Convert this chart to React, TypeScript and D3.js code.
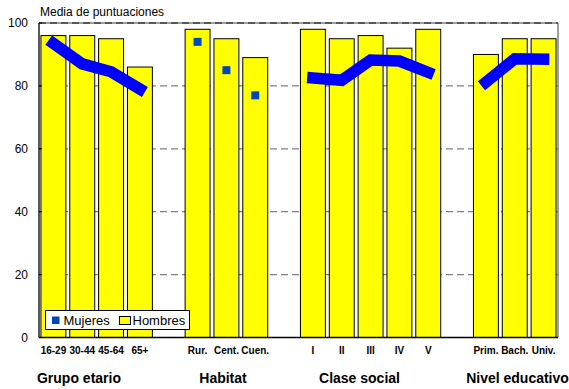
import React from "react";
import * as d3 from "d3";

const groupNames = ["Grupo etario", "Habitat", "Clase social", "Nivel educativo"];
const groupCategories = [
  ["16-29", "30-44", "45-64", "65+"],
  ["Rur.", "Cent.", "Cuen."],
  ["I", "II", "III", "IV", "V"],
  ["Prim.", "Bach.", "Univ."],
];
const hombres = [
  [96, 96, 95, 86],
  [98, 95, 89],
  [98, 95, 96, 92, 98],
  [90, 95, 95],
];
const mujeres = [
  [93.5, 87, 84.5, 79],
  [94, 85, 77],
  [82.5, 81.8, 88.2, 87.9, 84.3],
  [81.2, 88.6, 88.5],
];
const mujeresAsLine = [true, false, true, true];
const yTicks = [0, 20, 40, 60, 80, 100];
const yTitle = "Media de puntuaciones";
const legendLabels = ["Mujeres", "Hombres"];

// layout
const W = 569;
const H = 389;
const left = 39;
const right = 558;
const top = 23;
const bottom = 337.5;
const groupLabelX = [79, 223, 359.5, 517.5];
const FONT = "'Liberation Sans', Arial, Helvetica, sans-serif";

export default function App() {
  const slots: string[] = [];
  groupCategories.forEach((cats, g) => {
    if (g > 0) slots.push(`gap-${g}`);
    cats.forEach((_, i) => slots.push(`${g}-${i}`));
  });

  const x = d3
    .scaleBand<string>()
    .domain(slots)
    .range([left, right])
    .paddingInner(0.135)
    .paddingOuter(0.0675);
  const y = d3.scaleLinear().domain([0, 100]).range([bottom, top]);
  const cx = (g: number, i: number) => (x(`${g}-${i}`) as number) + x.bandwidth() / 2;

  const gridColor = "#808080";

  return (
    <svg
      width={W}
      height={H}
      style={{ position: "absolute", left: 0, top: 0, background: "#fff" }}
      fontFamily={FONT}
    >
      <line x1={left} x2={right} y1={top} y2={top} stroke={gridColor} strokeWidth={1.3} />
      <line x1={right} x2={right} y1={top} y2={bottom} stroke={gridColor} strokeWidth={1.5} />
      {yTicks
        .filter((t) => t > 0)
        .map((t) => (
          <line
            key={t}
            x1={left}
            x2={right}
            y1={y(t)}
            y2={y(t)}
            stroke={t === 100 ? "#404040" : gridColor}
            strokeWidth={1.3}
            strokeDasharray="7,4"
          />
        ))}
      {groupCategories.map((cats, g) =>
        cats.map((c, i) => {
          const v = hombres[g][i];
          return (
            <rect
              key={`b-${g}-${i}`}
              x={x(`${g}-${i}`)}
              y={y(v)}
              width={x.bandwidth()}
              height={bottom - y(v)}
              fill="#FFFF00"
              stroke="#000"
              strokeWidth={1}
            />
          );
        })
      )}
      {groupCategories.map((cats, g) =>
        cats.map((c, i) => (
          <rect
            key={`m-${g}-${i}`}
            x={cx(g, i) - 4}
            y={y(mujeres[g][i]) - 4}
            width={8}
            height={8}
            fill="#0047BB"
          />
        ))
      )}
      {groupCategories.map((cats, g) => {
        if (!mujeresAsLine[g]) return null;
        const gen = d3
          .line<number>()
          .x((_, i) => cx(g, i))
          .y((d) => y(d));
        return (
          <path
            key={`l-${g}`}
            d={gen(mujeres[g]) || ""}
            fill="none"
            stroke="#0000FF"
            strokeWidth={11.5}
            strokeLinejoin="miter"
            strokeLinecap="square"
          />
        );
      })}
      <line x1={left} x2={left} y1={top} y2={bottom} stroke="#000" strokeWidth={1.3} />
      <line x1={left} x2={right} y1={bottom} y2={bottom} stroke="#000" strokeWidth={1.3} />
      {yTicks.map((t) => (
        <g key={`yt-${t}`}>
          <line x1={left} x2={left + 3} y1={y(t)} y2={y(t)} stroke="#000" strokeWidth={1} />
          <text x={28} y={y(t)} dy="0.35em" textAnchor="end" fontSize={12} fill="#000">
            {t}
          </text>
        </g>
      ))}
      <text x={40} y={16} fontSize={12} fill="#000">
        {yTitle}
      </text>
      {groupCategories.map((cats, g) =>
        cats.map((c, i) => (
          <text
            key={`xl-${g}-${i}`}
            x={cx(g, i)}
            y={354}
            textAnchor="middle"
            fontSize={10}
            fontWeight="bold"
            fill="#000"
          >
            {c}
          </text>
        ))
      )}
      {groupNames.map((n, g) => (
        <text
          key={`gn-${g}`}
          x={groupLabelX[g]}
          y={383}
          textAnchor="middle"
          fontSize={14}
          fontWeight="bold"
          fill="#000"
        >
          {n}
        </text>
      ))}
      <g>
        <rect x={45.5} y={310.5} width={144} height={19} fill="#fff" stroke="#000" strokeWidth={1} />
        <rect x={52} y={316.5} width={7.5} height={7.5} fill="#0047BB" />
        <text x={63.5} y={325} fontSize={13} fill="#000">
          {legendLabels[0]}
        </text>
        <rect x={119.5} y={316.5} width={11} height={8} fill="#FFFF00" stroke="#000" strokeWidth={1} />
        <text x={132.5} y={325} fontSize={13} fill="#000">
          {legendLabels[1]}
        </text>
      </g>
    </svg>
  );
}
